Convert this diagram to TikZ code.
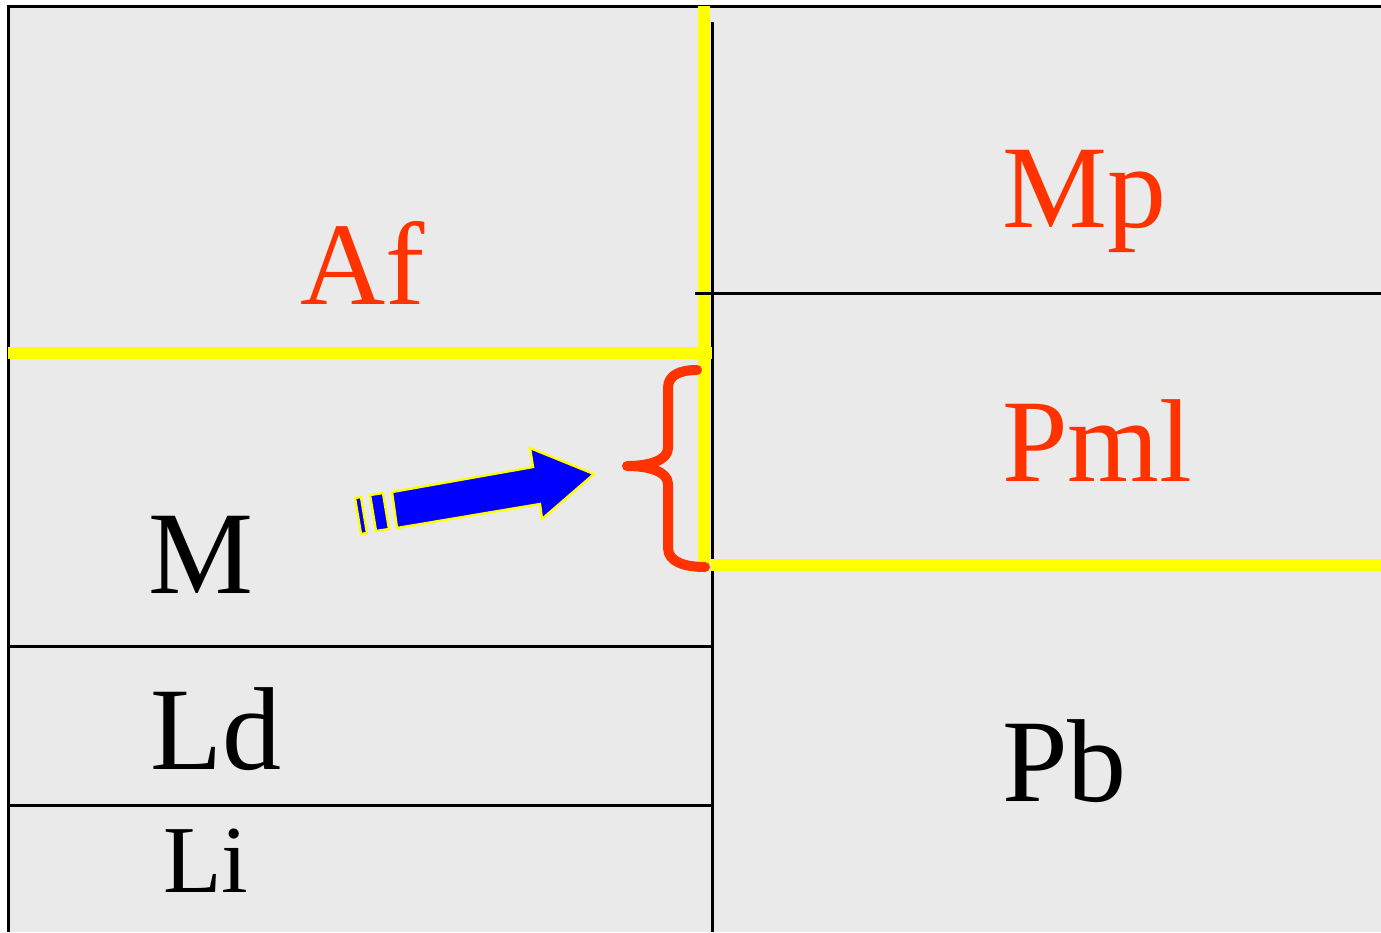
\documentclass[tikz,border=0pt]{standalone}
\usepackage{fontspec}
\setmainfont{Liberation Serif}
\definecolor{bg}{HTML}{EAEAEA}
\definecolor{lblred}{HTML}{FF3300}
\definecolor{ylw}{HTML}{FFFF00}
\definecolor{arrowblue}{HTML}{0000FF}
\begin{document}
\begin{tikzpicture}[x=1pt,y=-1pt,
  blackline/.style={draw=black,line width=3pt},
  yline/.style={draw=ylw,line width=12pt},
  bigtxt/.style={anchor=base west,inner sep=0pt,font=\fontsize{118}{120}\selectfont},
  redtxt/.style={bigtxt,text=lblred},
  blktxt/.style={bigtxt,text=black},
  arrowpart/.style={fill=arrowblue,draw=ylw,line width=2.4pt,line join=miter}]
\useasboundingbox (0,0) rectangle (1381,932);
\fill[white] (0,0) rectangle (1381,932);
\fill[bg] (8,6) rectangle (1381,932);
% frame
\draw[blackline] (1381,6) -- (8,6) -- (8,932);
% black division lines
\draw[yline] (704,6) -- (704,566);
\draw[blackline] (712,22) -- (712,932);
\draw[blackline] (695,293) -- (1381,293);
\draw[blackline] (8,646) -- (712,646);
\draw[blackline] (8,805) -- (712,805);
% yellow lines
\draw[yline] (8,353) -- (712,353);
\draw[yline] (711,565) -- (1381,565);
% labels
\node[redtxt] (af) at (300,304) {Af};
\node[redtxt] (mp) at (1002,227) {Mp};
\node[redtxt] (pml) at (1002,481) {Pml};
\node[blktxt] (m) at (148,593) {M};
\node[blktxt] (ld) at (150,769) {Ld};
\node[blktxt,font=\fontsize{96}{98}\selectfont] (li) at (163,892) {Li};
\node[blktxt] (pb) at (1002,801) {Pb};
% brace
\draw[lblred,line width=10pt,line cap=round,line join=round]
  (697,370) .. controls (680,370) and (668,375) .. (668,388)
  -- (668,448) .. controls (668,460) and (650,466) .. (627,466)
  .. controls (650,466) and (668,472) .. (668,484)
  -- (668,548) .. controls (668,562) and (685,567) .. (705,567);
% arrow
\path[arrowpart] (392,492) -- (533,467) -- (530,448) -- (594,474) -- (542,519) -- (540,504) -- (397,528) -- cycle;
\path[arrowpart] (370,495) -- (383,493) -- (389,529) -- (376,531) -- cycle;
\path[arrowpart] (355,498) -- (361,497) -- (367,533) -- (361,534) -- cycle;
\end{tikzpicture}
\end{document}
